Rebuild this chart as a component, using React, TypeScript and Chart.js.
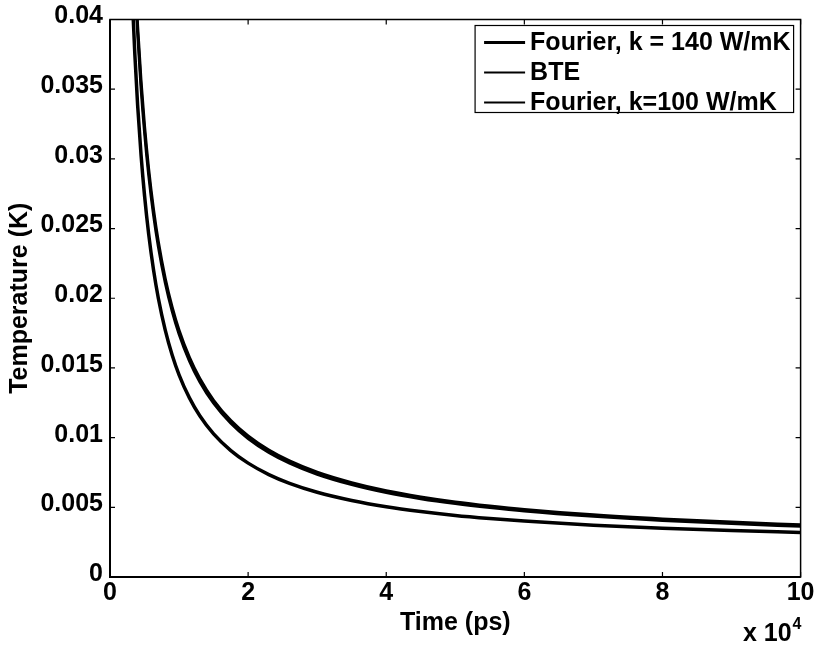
import React, { useEffect, useRef } from 'react';
import { Chart, registerables } from 'chart.js';

Chart.register(...registerables);

// ---- Data (time in units of 1e4 ps, temperature in K) ----
const SERIES_LABELS = ['Fourier, k = 140 W/mK', 'BTE', 'Fourier, k=100 W/mK'];

const T_K140 = [0.30, 0.33, 0.36, 0.40, 0.45, 0.50, 0.56, 0.63, 0.70, 0.80, 0.90, 1.0, 1.15, 1.3, 1.5, 1.75, 2.0, 2.3, 2.6, 3.0, 3.5, 4.0, 4.5, 5.0, 5.5, 6.0, 7.0, 8.0, 9.0, 10.0];
const V_K140 = [0.04472, 0.04076, 0.03747, 0.03385, 0.03025, 0.02737, 0.02460, 0.02204, 0.02000, 0.01771, 0.01593, 0.01451, 0.01285, 0.01157, 0.01027, 0.00907, 0.00817, 0.00735, 0.00672, 0.00608, 0.00549, 0.00504, 0.00470, 0.00442, 0.00420, 0.00401, 0.00372, 0.00350, 0.00333, 0.00320];

const T_BTE = [0.33, 0.36, 0.40, 0.45, 0.50, 0.56, 0.63, 0.70, 0.80, 0.90, 1.0, 1.15, 1.3, 1.5, 1.75, 2.0, 2.3, 2.6, 3.0, 3.5, 4.0, 4.5, 5.0, 5.5, 6.0, 7.0, 8.0, 9.0, 10.0];
const V_BTE = [0.04707, 0.04349, 0.03954, 0.03556, 0.03236, 0.02927, 0.02637, 0.02405, 0.02142, 0.01937, 0.01771, 0.01576, 0.01424, 0.01268, 0.01122, 0.01012, 0.00911, 0.00833, 0.00752, 0.00677, 0.00619, 0.00575, 0.00539, 0.00510, 0.00485, 0.00446, 0.00417, 0.00394, 0.00374];

const T_K100 = [0.33, 0.36, 0.40, 0.45, 0.50, 0.56, 0.63, 0.70, 0.80, 0.90, 1.0, 1.15, 1.3, 1.5, 1.75, 2.0, 2.3, 2.6, 3.0, 3.5, 4.0, 4.5, 5.0, 5.5, 6.0, 7.0, 8.0, 9.0, 10.0];
const V_K100 = [0.04645, 0.04292, 0.03901, 0.03508, 0.03192, 0.02886, 0.02600, 0.02371, 0.02111, 0.01908, 0.01744, 0.01551, 0.01401, 0.01247, 0.01103, 0.00994, 0.00894, 0.00817, 0.00737, 0.00663, 0.00606, 0.00562, 0.00527, 0.00498, 0.00473, 0.00435, 0.00406, 0.00383, 0.00364];

const X_TICKS = [0, 2, 4, 6, 8, 10];
const Y_TICKS = [0, 0.005, 0.01, 0.015, 0.02, 0.025, 0.03, 0.035, 0.04];
const X_TITLE = 'Time (ps)';
const Y_TITLE = 'Temperature (K)';
const X_EXP_BASE = 'x 10';
const X_EXP_POWER = '4';

const FONT_FAMILY = '"Liberation Sans", Arial, Helvetica, sans-serif';
const FONT_SIZE = 25;

const toPoints = (t: number[], v: number[]) => t.map((x, i) => ({ x, y: v[i] }));

const framePlugin = {
  id: 'matlabFrame',
  afterDatasetsDraw(chart: any) {
    const { ctx, chartArea: a, scales } = chart;
    const xs = scales.x;
    const ys = scales.y;
    ctx.save();
    ctx.strokeStyle = '#000';
    ctx.lineWidth = 1.5;
    ctx.strokeRect(a.left, a.top, a.right - a.left, a.bottom - a.top);
    ctx.lineWidth = 2;
    ctx.beginPath();
    ctx.moveTo(a.left, a.top);
    ctx.lineTo(a.left, a.bottom);
    ctx.lineTo(a.right, a.bottom);
    ctx.stroke();
    const tl = 5;
    ctx.lineWidth = 1.2;
    ctx.beginPath();
    X_TICKS.forEach((v) => {
      const px = xs.getPixelForValue(v);
      ctx.moveTo(px, a.bottom);
      ctx.lineTo(px, a.bottom - tl);
      ctx.moveTo(px, a.top);
      ctx.lineTo(px, a.top + tl);
    });
    Y_TICKS.forEach((v) => {
      const py = ys.getPixelForValue(v);
      ctx.moveTo(a.left, py);
      ctx.lineTo(a.left + tl, py);
      ctx.moveTo(a.right, py);
      ctx.lineTo(a.right - tl, py);
    });
    ctx.stroke();
    ctx.restore();
  },
  afterDraw(chart: any) {
    const { ctx, chartArea: a } = chart;
    ctx.save();
    const font = `bold ${FONT_SIZE}px ${FONT_FAMILY}`;
    ctx.font = font;
    const datasets = chart.data.datasets;
    const maxW = Math.max(...datasets.map((d: any) => ctx.measureText(d.label).width));
    const padL = 9, lineLen = 41, gap = 5, padR = 3, rowH = 30;
    const boxW = padL + lineLen + gap + maxW + padR;
    const boxH = rowH * datasets.length - 3;
    const right = a.right - 7;
    const top = a.top + 6;
    const left = right - boxW;
    ctx.fillStyle = '#fff';
    ctx.fillRect(left, top, boxW, boxH);
    ctx.strokeStyle = '#000';
    ctx.lineWidth = 1.2;
    ctx.strokeRect(left, top, boxW, boxH);
    ctx.textBaseline = 'middle';
    ctx.textAlign = 'left';
    datasets.forEach((d: any, i: number) => {
      const cy = top + 17 + i * rowH;
      ctx.strokeStyle = d.borderColor;
      ctx.lineWidth = i === 0 ? 3 : 2.2;
      ctx.beginPath();
      ctx.moveTo(left + padL, cy);
      ctx.lineTo(left + padL + lineLen, cy);
      ctx.stroke();
      ctx.fillStyle = '#000';
      ctx.fillText(d.label, left + padL + lineLen + gap, cy + 1);
    });
    // x 10^4 exponent label
    ctx.fillStyle = '#000';
    ctx.textBaseline = 'alphabetic';
    ctx.textAlign = 'right';
    ctx.font = font;
    ctx.fillText(X_EXP_BASE, a.right - 9, 641);
    ctx.textAlign = 'left';
    ctx.font = `bold 16px ${FONT_FAMILY}`;
    ctx.fillText(X_EXP_POWER, a.right - 8, 629);
    ctx.restore();
  },
};

export default function App() {
  const canvasRef = useRef<HTMLCanvasElement | null>(null);

  useEffect(() => {
    document.body.style.margin = '0';
    const canvas = canvasRef.current;
    if (!canvas) return;
    const tickFont = { family: FONT_FAMILY, size: FONT_SIZE, weight: 'bold' as const, lineHeight: 1 };
    const titleFont = { family: FONT_FAMILY, size: FONT_SIZE, weight: 'bold' as const, lineHeight: 1.2 };
    const chart = new Chart(canvas, {
      type: 'line',
      data: {
        datasets: [
          { label: SERIES_LABELS[0], data: toPoints(T_K140, V_K140), borderColor: '#000', backgroundColor: '#000', borderWidth: 3.5 },
          { label: SERIES_LABELS[1], data: toPoints(T_BTE, V_BTE), borderColor: '#000', backgroundColor: '#000', borderWidth: 3 },
          { label: SERIES_LABELS[2], data: toPoints(T_K100, V_K100), borderColor: '#000', backgroundColor: '#000', borderWidth: 3 },
        ],
      },
      options: {
        animation: false,
        responsive: false,
        maintainAspectRatio: false,
        layout: { padding: { left: 0, right: 16, top: 14, bottom: 0 } },
        plugins: { legend: { display: false }, tooltip: { enabled: false } },
        elements: {
          point: { radius: 0 },
          line: { cubicInterpolationMode: 'monotone' },
        },
        scales: {
          x: {
            type: 'linear',
            min: 0,
            max: 10,
            grid: { display: false, drawTicks: false },
            border: { display: false },
            ticks: { font: tickFont, color: '#000', padding: 3.5, maxRotation: 0, callback: (v: any) => String(v) },
            title: { display: true, text: X_TITLE, font: titleFont, color: '#000', padding: { top: 0, bottom: 8 } },
            afterBuildTicks: (s: any) => { s.ticks = X_TICKS.map((value) => ({ value })); },
            afterFit: (s: any) => { s.height = 69; },
          },
          y: {
            type: 'linear',
            min: 0,
            max: 0.04,
            grid: { display: false, drawTicks: false },
            border: { display: false },
            ticks: { font: tickFont, color: '#000', padding: 7, labelOffset: -3, callback: (v: any) => String(Number(Number(v).toFixed(4))) },
            title: { display: true, text: Y_TITLE, font: titleFont, color: '#000', padding: { top: 5, bottom: 0 } },
            afterBuildTicks: (s: any) => { s.ticks = Y_TICKS.map((value) => ({ value })); },
            afterFit: (s: any) => { s.width = 110; },
          },
        },
      },
      plugins: [framePlugin],
    });
    return () => chart.destroy();
  }, []);

  return (
    <div style={{ width: 818, height: 646, background: '#fff' }}>
      <canvas ref={canvasRef} width={818} height={646} style={{ display: 'block' }} />
    </div>
  );
}
